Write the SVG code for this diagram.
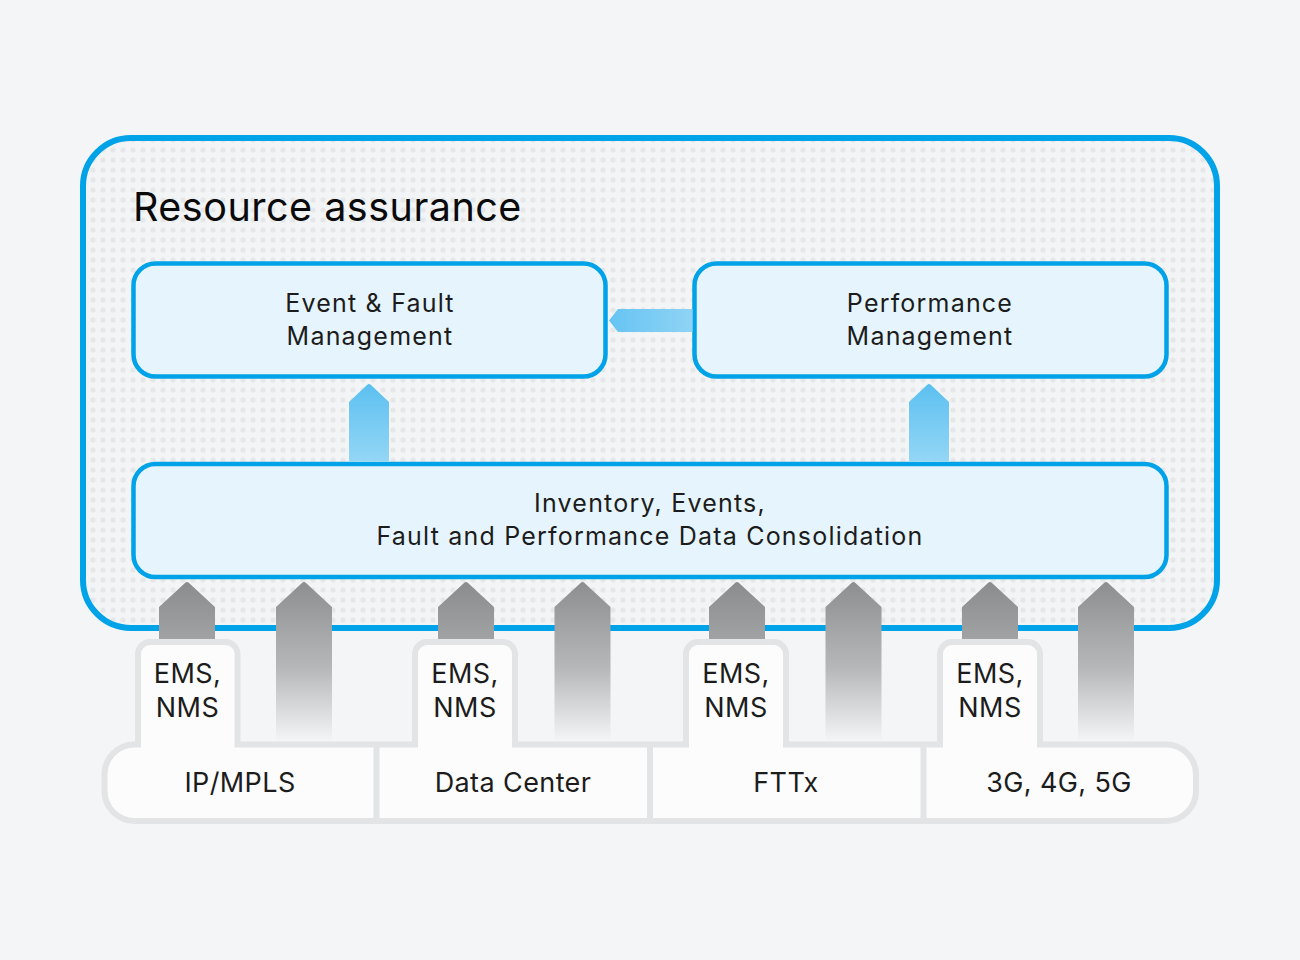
<svg xmlns="http://www.w3.org/2000/svg" width="1300" height="960" viewBox="0 0 1300 960">
  <defs>
    <pattern id="dots" x="-2" y="-5" width="10" height="10" patternUnits="userSpaceOnUse">
      <rect width="10" height="10" fill="#f3f4f6"/>
      <circle cx="5" cy="5" r="2.6" fill="#e6e7e9"/>
    </pattern>
    <linearGradient id="gBlueV" x1="0" y1="0" x2="0" y2="1">
      <stop offset="0" stop-color="#5cc0f0"/>
      <stop offset="1" stop-color="#94d6f6"/>
    </linearGradient>
    <linearGradient id="gBlueH" x1="0" y1="0" x2="1" y2="0">
      <stop offset="0" stop-color="#66c4f2"/>
      <stop offset="1" stop-color="#8fd3f5"/>
    </linearGradient>
    <linearGradient id="gGrayShort" x1="0" y1="0" x2="0" y2="1">
      <stop offset="0" stop-color="#8a8c8e"/>
      <stop offset="1" stop-color="#a2a4a6"/>
    </linearGradient>
    <linearGradient id="gGrayTall" x1="0" y1="0" x2="0" y2="1">
      <stop offset="0" stop-color="#8c8e90"/>
      <stop offset="0.55" stop-color="#b6b8ba"/>
      <stop offset="1" stop-color="#f3f4f5"/>
    </linearGradient>
  </defs>
  <style>
    .title { font-family: Inter, "Liberation Sans", sans-serif; font-size: 39.5px; letter-spacing: 0.5px; fill: #0a0a0a; }
    .box { fill: #e6f5fd; stroke: #00a2e8; stroke-width: 4.5; }
    .boxText { font-family: Inter, "Liberation Sans", sans-serif; font-size: 25px; letter-spacing: 1.2px; fill: #1c1c1c; text-anchor: middle; }
    .netText { font-family: Inter, "Liberation Sans", sans-serif; font-size: 27px; letter-spacing: 0.4px; fill: #1c1c1c; text-anchor: middle; }
    .netShape { fill: #fcfcfc; stroke: #e3e4e6; stroke-width: 6; }
    .sep { stroke: #e3e4e6; stroke-width: 6; }
  </style>

  <rect width="1300" height="960" fill="#f4f5f7"/>

  <g id="resource-assurance">
    <rect x="83" y="138" width="1134" height="490" rx="48" fill="url(#dots)" stroke="#00a2e8" stroke-width="6"/>
    <text class="title" x="133" y="221">Resource assurance</text>
  </g>

  <g id="event-fault">
    <rect class="box" x="133.5" y="263.5" width="472" height="113" rx="22"/>
    <text class="boxText" x="370" y="312">Event &amp; Fault</text>
    <text class="boxText" x="370" y="345">Management</text>
  </g>

  <g id="performance">
    <rect class="box" x="694.5" y="263.5" width="472" height="113" rx="22"/>
    <text class="boxText" x="930" y="312">Performance</text>
    <text class="boxText" x="930" y="345">Management</text>
  </g>

  <g id="consolidation">
    <rect class="box" x="133.5" y="464" width="1033" height="113" rx="22"/>
    <text class="boxText" x="650" y="512">Inventory, Events,</text>
    <text class="boxText" x="650" y="545">Fault and Performance Data Consolidation</text>
  </g>

  <g id="connectors">
    <path d="M609 320.5 L618 309 H692.5 V332 H618 Z" fill="url(#gBlueH)"/>
    <path d="M349 461.5 V402 L367 385 Q369 383 371 385 L389 402 V461.5 Z" fill="url(#gBlueV)"/>
    <path d="M909 461.5 V402 L927 385 Q929 383 931 385 L949 402 V461.5 Z" fill="url(#gBlueV)"/>

    <path d="M159 645 V607 L185 583 Q187 581 189 583 L215 607 V645 Z" fill="url(#gGrayShort)"/>
    <path d="M438 645 V607 L464 583 Q466 581 468 583 L494 607 V645 Z" fill="url(#gGrayShort)"/>
    <path d="M709 645 V607 L735 583 Q737 581 739 583 L765 607 V645 Z" fill="url(#gGrayShort)"/>
    <path d="M962 645 V607 L988 583 Q990 581 992 583 L1018 607 V645 Z" fill="url(#gGrayShort)"/>

    <path d="M276 740 V607 L302 583 Q304 581 306 583 L332 607 V740 Z" fill="url(#gGrayTall)"/>
    <path d="M554.5 740 V607 L580.5 583 Q582.5 581 584.5 583 L610.5 607 V740 Z" fill="url(#gGrayTall)"/>
    <path d="M825.5 740 V607 L851.5 583 Q853.5 581 855.5 583 L881.5 607 V740 Z" fill="url(#gGrayTall)"/>
    <path d="M1078 740 V607 L1104 583 Q1106 581 1108 583 L1134 607 V740 Z" fill="url(#gGrayTall)"/>
  </g>

  <g id="networks">
    <path class="netShape" d="M104.5 774.5 A30 30 0 0 1 134.5 744.5 H138 V654 A12 12 0 0 1 150 642 H225.5 A12 12 0 0 1 237.5 654 V744.5 H415 V654 A12 12 0 0 1 427 642 H503 A12 12 0 0 1 515 654 V744.5 H686 V654 A12 12 0 0 1 698 642 H774 A12 12 0 0 1 786 654 V744.5 H940 V654 A12 12 0 0 1 952 642 H1028 A12 12 0 0 1 1040 654 V744.5 H1166 A30 30 0 0 1 1196 774.5 V791 A30 30 0 0 1 1166 821 H134.5 A30 30 0 0 1 104.5 791 Z"/>
    <line class="sep" x1="376.5" y1="744.5" x2="376.5" y2="821"/>
    <line class="sep" x1="650" y1="744.5" x2="650" y2="821"/>
    <line class="sep" x1="923.5" y1="744.5" x2="923.5" y2="821"/>
  </g>

  <g id="ip-mpls">
    <text class="netText" x="187.5" y="683">EMS,</text>
    <text class="netText" x="187.5" y="717">NMS</text>
    <text class="netText" x="240" y="792">IP/MPLS</text>
  </g>
  <g id="data-center">
    <text class="netText" x="465" y="683">EMS,</text>
    <text class="netText" x="465" y="717">NMS</text>
    <text class="netText" x="513" y="792">Data Center</text>
  </g>
  <g id="fttx">
    <text class="netText" x="736" y="683">EMS,</text>
    <text class="netText" x="736" y="717">NMS</text>
    <text class="netText" x="786" y="792">FTTx</text>
  </g>
  <g id="mobile">
    <text class="netText" x="990" y="683">EMS,</text>
    <text class="netText" x="990" y="717">NMS</text>
    <text class="netText" x="1059" y="792">3G, 4G, 5G</text>
  </g>
</svg>
